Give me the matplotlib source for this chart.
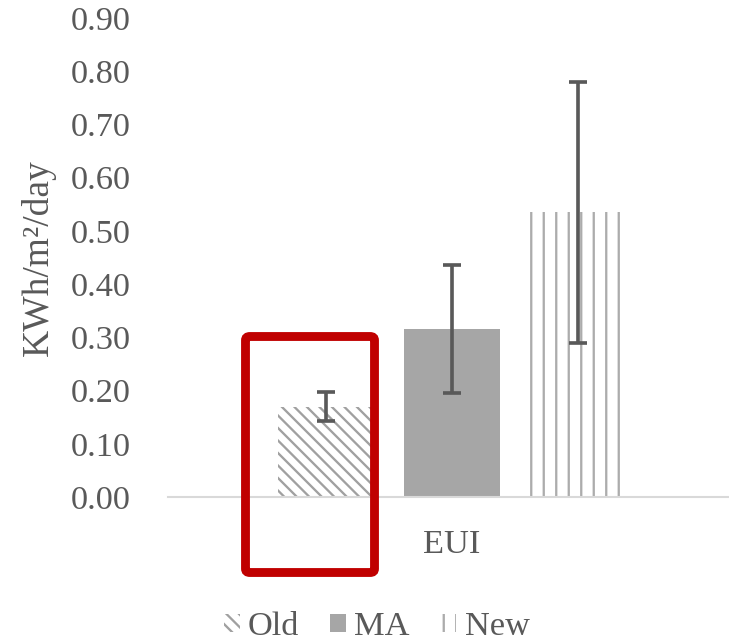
import matplotlib
matplotlib.use("Agg")
import matplotlib.pyplot as plt
from matplotlib.patches import FancyBboxPatch

# data
category = "EUI"
series = ["Old", "MA", "New"]
values = [0.17, 0.315, 0.535]
errors = [0.028, 0.12, 0.245]
yticks = [0.0, 0.1, 0.2, 0.3, 0.4, 0.5, 0.6, 0.7, 0.8, 0.9]

DPI = 75
W, H = 730, 641
TXT = "#595959"
FS = 33

plt.rcParams["font.family"] = ["Liberation Serif", "DejaVu Serif"]
plt.rcParams["hatch.linewidth"] = 2.2

fig = plt.figure(figsize=(W / DPI, H / DPI), dpi=DPI)
ax = fig.add_axes([168 / W, (H - 497) / H, 560 / W, (497 - 18) / H])

styles = [
    dict(color="white", hatch="\\\\", hatch_color="#a0a0a0"),
    dict(color="#a6a6a6", hatch=None, hatch_color=None),
    dict(color="white", hatch="|", hatch_color="#acacac"),
]
offsets = [-1, 0, 1]
handles = []
for off, name, v, e, st in zip(offsets, series, values, errors, styles):
    b = ax.bar(off, v, width=0.76, color=st["color"], label=name,
               edgecolor=st["hatch_color"] or st["color"], linewidth=0,
               hatch=st["hatch"], zorder=2)
    handles.append(b)
    ax.errorbar(off, v, yerr=e, fmt="none", ecolor="#595959",
                elinewidth=3.5, capsize=8.5, capthick=3.5, zorder=3)

ax.set_xlim(-2.25, 2.19)
ax.set_ylim(0, 0.9)
ax.set_yticks(yticks)
ax.set_yticklabels([f"{t:.2f}" for t in yticks])
ax.set_xticks([0])
ax.set_xticklabels([category])
ax.tick_params(axis="both", length=0, labelsize=FS, colors=TXT)
ax.tick_params(axis="y", pad=36)
ax.tick_params(axis="x", pad=31)
for s in ["top", "right", "left"]:
    ax.spines[s].set_visible(False)
ax.spines["bottom"].set_color("#d9d9d9")
ax.spines["bottom"].set_linewidth(2)
ax.set_ylabel("KWh/m\u00b2/day", fontsize=36, color=TXT, labelpad=14)

fig.legend(handles=handles, labels=series, loc="center",
           bbox_to_anchor=(377 / W, 14 / H), ncol=3, frameon=False,
           fontsize=FS, handlelength=0.45, handleheight=0.45,
           handletextpad=0.25, columnspacing=0.9, labelcolor=TXT)

# red highlight box around the "Old" bar
box = FancyBboxPatch((245.5 / W, (H - 572.5) / H), 129 / W, 236 / H,
                     boxstyle="round,pad=0,rounding_size=0.006",
                     transform=fig.transFigure, fill=False,
                     edgecolor="#c00000", linewidth=8.5, zorder=10)
fig.patches.append(box)

fig.savefig("out.png", dpi=DPI)
